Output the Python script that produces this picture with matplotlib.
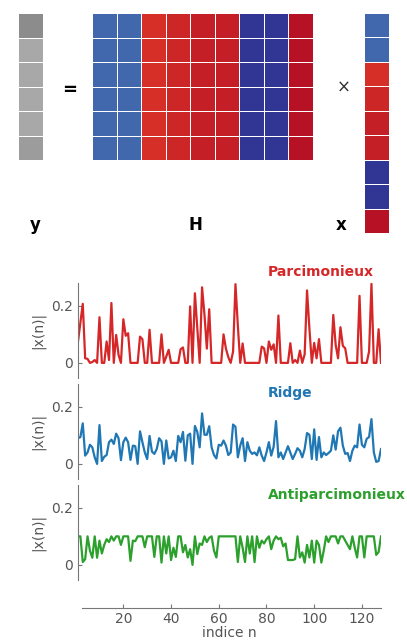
import numpy as np
import matplotlib
matplotlib.use("Agg")
import matplotlib.pyplot as plt

# figure size in pixels (dpi 100)
W, H_PX = 407, 641

# --- top diagram data ---
y_vals = [0.55, 0.66, 0.66, 0.66, 0.66, 0.61]             # grey levels of y
h_cols = [0.08, 0.08, 0.9, 0.92, 0.935, 0.935, 0.0, 0.0, 0.962]  # one value per column of H
n_rows = 6

# --- coefficient series, n = 1..128 ---
sparse = [
    0.075, 0.14, 0.207, 0.016, 0.014, 0.0, 0.003, 0.01, 0.0, 0.16,
    0.0, 0.0, 0.075, 0.01, 0.21, 0.0, 0.098, 0.028, 0.0, 0.153,
    0.095, 0.104, 0.0, 0.0, 0.0, 0.0, 0.092, 0.083, 0.0, 0.0,
    0.116, 0.0, 0.0, 0.0, 0.0, 0.1, 0.0, 0.022, 0.046, 0.0,
    0.0, 0.0, 0.0, 0.048, 0.054, 0.0, 0.0, 0.198, 0.0, 0.244,
    0.12, 0.0, 0.265, 0.17, 0.05, 0.188, 0.0, 0.0, 0.0, 0.0,
    0.0, 0.1, 0.05, 0.02, 0.0, 0.04, 0.276, 0.13, 0.0, 0.068,
    0.0, 0.0, 0.0, 0.0, 0.0, 0.0, 0.0, 0.057, 0.051, 0.0,
    0.075, 0.046, 0.065, 0.0, 0.166, 0.0, 0.0, 0.0, 0.0, 0.069,
    0.0, 0.01, 0.0, 0.043, 0.0, 0.03, 0.254, 0.12, 0.0, 0.07,
    0.016, 0.083, 0.0, 0.0, 0.0, 0.0, 0.0, 0.168, 0.063, 0.016,
    0.125, 0.06, 0.051, 0.0, 0.0, 0.0, 0.0, 0.0, 0.235, 0.0,
    0.0, 0.0, 0.04, 0.277, 0.0, 0.0, 0.118, 0.0,
]
ridge = [
    0.09, 0.094, 0.142, 0.029, 0.04, 0.067, 0.058, 0.023, 0.0, 0.136,
    0.01, 0.025, 0.031, 0.076, 0.085, 0.07, 0.106, 0.09, 0.013, 0.076,
    0.092, 0.076, 0.014, 0.064, 0.062, 0.0, 0.114, 0.076, 0.04, 0.017,
    0.098, 0.043, 0.035, 0.052, 0.09, 0.079, 0.0, 0.082, 0.019, 0.023,
    0.046, 0.01, 0.098, 0.076, 0.112, 0.011, 0.1, 0.106, 0.0, 0.133,
    0.112, 0.058, 0.177, 0.102, 0.102, 0.132, 0.058, 0.031, 0.019, 0.067,
    0.064, 0.082, 0.064, 0.031, 0.04, 0.138, 0.13, 0.023, 0.064, 0.09,
    0.01, 0.076, 0.046, 0.035, 0.04, 0.03, 0.058, 0.029, 0.01, 0.04,
    0.076, 0.029, 0.06, 0.15, 0.023, 0.04, 0.017, 0.04, 0.062, 0.04,
    0.017, 0.035, 0.055, 0.046, 0.023, 0.052, 0.108, 0.102, 0.017, 0.121,
    0.014, 0.094, 0.023, 0.04, 0.031, 0.038, 0.046, 0.1, 0.05, 0.114,
    0.127, 0.064, 0.035, 0.038, 0.01, 0.046, 0.064, 0.058, 0.138, 0.067,
    0.058, 0.088, 0.094, 0.157, 0.04, 0.007, 0.01, 0.052,
]
antisparse = [
    0.1, 0.1, 0.01, 0.02, 0.1, 0.05, 0.025, 0.1, 0.025, 0.085,
    0.04, 0.07, 0.09, 0.08, 0.1, 0.085, 0.1, 0.1, 0.07, 0.1,
    0.1, 0.1, 0.014, 0.085, 0.083, 0.1, 0.1, 0.1, 0.062, 0.1,
    0.1, 0.1, 0.028, 0.1, 0.1, 0.008, 0.1, 0.04, 0.1, 0.017,
    0.06, 0.028, 0.1, 0.1, 0.044, 0.07, 0.026, 0.055, 0.0, 0.1,
    0.038, 0.075, 0.07, 0.1, 0.08, 0.095, 0.1, 0.05, 0.026, 0.1,
    0.1, 0.1, 0.1, 0.1, 0.1, 0.1, 0.1, 0.01, 0.1, 0.06,
    0.01, 0.1, 0.04, 0.1, 0.01, 0.1, 0.06, 0.085, 0.075, 0.09,
    0.1, 0.055, 0.085, 0.1, 0.09, 0.095, 0.065, 0.075, 0.017, 0.017,
    0.017, 0.02, 0.1, 0.026, 0.044, 0.008, 0.07, 0.026, 0.085, 0.008,
    0.085, 0.07, 0.008, 0.05, 0.1, 0.08, 0.1, 0.1, 0.1, 0.075,
    0.1, 0.1, 0.085, 0.07, 0.055, 0.1, 0.06, 0.026, 0.1, 0.1,
    0.026, 0.1, 0.1, 0.1, 0.1, 0.035, 0.045, 0.1,
]
series = [sparse, ridge, antisparse]
names = ["Parcimonieux", "Ridge", "Antiparcimonieux"]
colors = ["#d62728", "#1f77b4", "#2ca02c"]
xticks = [20, 40, 60, 80, 100, 120]
yticks = [0, 0.2]

n = np.arange(1, len(sparse) + 1)
grey_txt = "#555555"
grey_ax = "#777777"


def px_axes(fig, x0, y0, x1, y1):
    # axes from pixel box (top-left origin)
    return fig.add_axes([x0 / W, 1 - y1 / H_PX, (x1 - x0) / W, (y1 - y0) / H_PX])


def ftext(fig, x, y, s, **kw):
    fig.text(x / W, 1 - y / H_PX, s, **kw)


fig = plt.figure(figsize=(W / 100, H_PX / 100), dpi=100)

# ---- matrix diagram ----
cmap = plt.cm.RdYlBu_r
ax_y = px_axes(fig, 18, 13, 43, 160)
ax_y.pcolormesh(np.array(y_vals)[:, None], cmap="gray", vmin=0, vmax=1,
                edgecolors="white", linewidth=0.7)

ax_h = px_axes(fig, 92, 13, 313, 160)
H = np.tile(h_cols, (n_rows, 1))
ax_h.pcolormesh(H, cmap=cmap, vmin=0, vmax=1, edgecolors="white", linewidth=0.7)

ax_x = px_axes(fig, 364, 13, 389, 233)
ax_x.pcolormesh(np.array(h_cols)[:, None], cmap=cmap, vmin=0, vmax=1,
                edgecolors="white", linewidth=0.7)

for a in (ax_y, ax_h, ax_x):
    a.invert_yaxis()
    a.set_axis_off()

ftext(fig, 70, 90, "=", fontsize=13, fontweight="bold", ha="center", va="center")
ftext(fig, 344, 88, "×", fontsize=12, color="#333333", ha="center", va="center")
for lx, s in [(35, "y"), (195, "H"), (341, "x")]:
    ftext(fig, lx, 225, s, fontsize=12, fontweight="bold", ha="center", va="center")

# ---- coefficient panels ----
tops = [283, 384, 485]
title_y = [272, 393, 495]
for i in range(3):
    ax = px_axes(fig, 78, tops[i], 381, tops[i] + 95)
    ax.plot(n, series[i], color=colors[i], lw=1.6)
    ax.set_xlim(1, 128)
    ax.set_ylim(-0.053, 0.28)
    ax.set_yticks(yticks)
    ax.set_yticklabels(["0", "0.2"])
    for s in ("top", "right"):
        ax.spines[s].set_visible(False)
    ax.spines["left"].set_color(grey_ax)
    ax.tick_params(axis="y", direction="in", length=3, colors=grey_ax,
                   labelcolor=grey_txt, labelsize=10)
    ax.set_ylabel("|x(n)|", color=grey_txt, fontsize=10, labelpad=4)
    if i < 2:
        ax.spines["bottom"].set_visible(False)
        ax.set_xticks([])
    else:
        ax.spines["bottom"].set_position(("outward", 20))
        ax.spines["bottom"].set_bounds(2.5, 128)
        ax.spines["bottom"].set_color(grey_ax)
        ax.set_xticks(xticks)
        ax.tick_params(axis="x", direction="in", length=3, pad=3, colors=grey_ax,
                       labelcolor=grey_txt, labelsize=10)
        ax.set_xlabel("indice n", color=grey_txt, fontsize=10, labelpad=0)
    ftext(fig, 268, title_y[i], names[i], color=colors[i], fontsize=10,
          fontweight="bold", ha="left", va="center")

fig.savefig("out.png", dpi=100)
